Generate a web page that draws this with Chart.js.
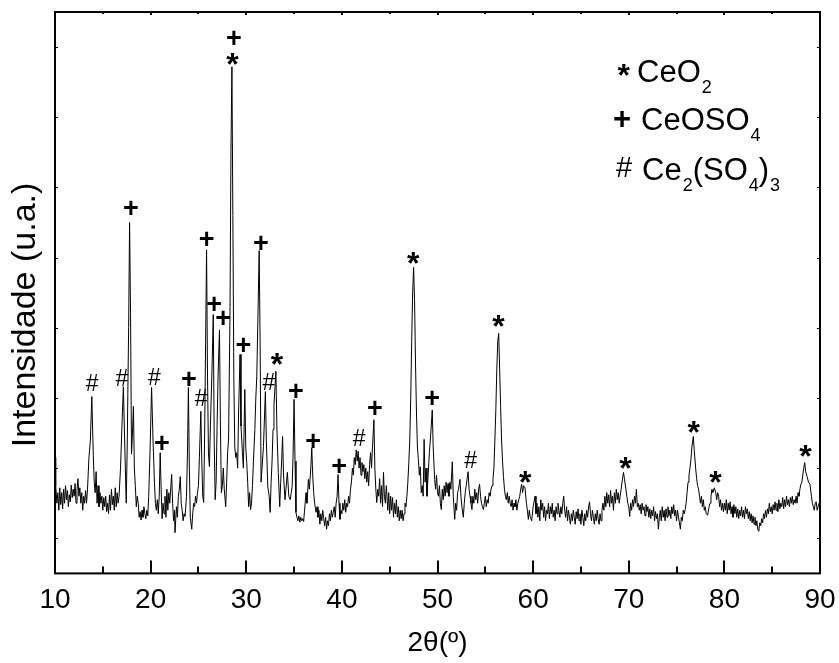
<!DOCTYPE html>
<html>
<head>
<meta charset="utf-8">
<script src="https://cdn.jsdelivr.net/npm/chart.js@4.4.1/dist/chart.umd.min.js"></script>
<style>
html, body { margin: 0; padding: 0; background: #fff; }
</style>
</head>
<body>
<canvas id="chart" width="839" height="663"></canvas>
<script>
// XRD scan: [2theta, intensity (a.u.)]
const scan = [
[10.00,215],[10.05,190],[10.1,175],[10.2,150],[10.3,165],[10.4,140],[10.5,172],[10.6,148],[10.7,165],[10.8,142],[10.9,170],
[11.0,150],[11.1,175],[11.2,155],[11.3,168],[11.4,145],[11.5,162],[11.6,152],[11.7,176],[11.8,158],[11.9,170],
[12.0,160],[12.1,178],[12.2,150],[12.3,168],[12.4,185],[12.5,160],[12.6,172],[12.7,150],[12.8,165],[12.9,140],
[13.0,160],[13.1,150],[13.2,168],[13.3,150],[13.4,170],[13.55,215],[13.7,240],[13.85,302],[14.0,220],[14.1,180],
[14.2,165],[14.3,195],[14.4,150],[14.5,175],[14.6,145],[14.7,165],[14.8,150],[14.9,160],[15.0,140],[15.1,158],
[15.2,145],[15.3,160],[15.4,138],[15.5,150],[15.6,135],[15.7,162],[15.8,140],[15.9,170],[16.0,148],[16.1,160],
[16.2,140],[16.3,172],[16.4,145],[16.5,165],[16.6,150],[16.7,160],[16.85,200],[17.0,260],[17.15,316],[17.3,230],
[17.45,150],[17.55,230],[17.7,400],[17.8,550],[17.9,420],[18.0,220],[18.1,250],[18.2,288],[18.3,200],[18.4,175],
[18.5,145],[18.6,160],[18.7,150],[18.8,130],[18.9,138],[19.0,126],[19.1,140],[19.2,130],[19.3,145],[19.4,135],
[19.5,128],[19.6,140],[19.7,132],[19.8,160],[19.95,230],[20.1,315],[20.25,240],[20.4,180],[20.5,150],[20.6,140],
[20.7,155],[20.8,135],[20.9,160],[21.0,222],[21.1,170],[21.2,128],[21.3,150],[21.4,135],[21.5,160],[21.6,130],
[21.7,170],[21.8,140],[21.9,165],[22.0,150],[22.2,191],[22.3,150],[22.4,125],[22.5,140],[22.55,108],[22.7,145],
[22.8,130],[22.9,160],[23.0,170],[23.1,188],[23.2,150],[23.3,140],[23.4,125],[23.5,135],[23.6,131],[23.75,160],
[23.85,220],[23.95,315],[24.05,200],[24.15,130],[24.3,113],[24.4,135],[24.5,150],[24.6,145],[24.7,160],[24.8,150],
[24.9,165],[25.0,175],[25.1,215],[25.25,281],[25.35,210],[25.45,160],[25.55,151],[25.65,250],[25.75,380],[25.85,511],
[25.95,330],[26.05,220],[26.15,202],[26.25,260],[26.4,330],[26.55,419],[26.65,240],[26.75,155],[26.85,180],[26.95,260],
[27.05,330],[27.2,397],[27.3,260],[27.4,165],[27.5,175],[27.6,200],[27.7,170],[27.85,145],[27.95,180],[28.05,222],
[28.15,240],[28.3,420],[28.4,650],[28.5,772],[28.6,560],[28.7,330],[28.8,230],[28.9,215],[29.0,222],[29.1,200],
[29.2,280],[29.35,362],[29.45,260],[29.6,222],[29.7,200],[29.85,312],[29.95,230],[30.05,208],[30.15,180],[30.25,145],
[30.35,165],[30.45,141],[30.55,150],[30.65,175],[30.75,210],[30.9,255],[31.0,300],[31.1,330],[31.2,400],[31.35,510],
[31.45,380],[31.55,180],[31.65,200],[31.8,231],[31.9,270],[32.0,309],[32.1,240],[32.25,174],[32.4,160],[32.5,137],
[32.6,180],[32.7,210],[32.8,255],[32.9,290],[33.1,338],[33.2,260],[33.35,194],[33.5,145],[33.6,180],[33.7,210],
[33.8,245],[33.9,190],[34.05,155],[34.15,170],[34.3,194],[34.45,160],[34.6,155],[34.7,165],[34.8,174],[34.9,220],
[35.0,298],[35.1,210],[35.2,137],[35.3,130],[35.4,125],[35.5,132],[35.6,123],[35.7,130],[35.8,125],[35.9,128],
[36.0,124],[36.1,140],[36.25,165],[36.35,150],[36.5,184],[36.6,170],[36.75,200],[36.85,229],[36.95,190],[37.05,165],
[37.15,150],[37.3,137],[37.4,145],[37.5,130],[37.6,140],[37.7,120],[37.8,135],[37.9,125],[38.0,140],[38.1,128],
[38.2,118],[38.3,130],[38.4,113],[38.5,125],[38.6,118],[38.7,135],[38.8,125],[38.9,140],[39.0,130],[39.1,137],
[39.2,145],[39.3,130],[39.4,150],[39.5,160],[39.6,191],[39.7,150],[39.8,127],[39.9,140],[40.0,135],[40.1,150],
[40.2,140],[40.3,155],[40.4,137],[40.5,150],[40.6,145],[40.7,160],[40.8,150],[40.9,170],[41.0,180],[41.1,200],
[41.2,190],[41.3,215],[41.4,205],[41.5,226],[41.6,210],[41.7,224],[41.8,200],[41.9,215],[42.0,190],[42.1,208],
[42.2,195],[42.3,205],[42.4,185],[42.5,200],[42.6,180],[42.7,195],[42.8,175],[42.9,205],[43.0,222],[43.1,200],
[43.2,230],[43.35,269],[43.45,200],[43.55,170],[43.65,151],[43.75,170],[43.85,160],[43.95,185],[44.05,150],[44.15,175],
[44.25,145],[44.35,194],[44.45,160],[44.55,150],[44.65,175],[44.8,140],[44.9,165],[45.0,135],[45.1,160],[45.2,140],
[45.3,158],[45.4,130],[45.5,150],[45.6,135],[45.7,155],[45.8,130],[45.9,145],[46.0,125],[46.1,140],[46.2,128],
[46.3,140],[46.4,125],[46.5,135],[46.6,150],[46.7,145],[46.8,160],[46.9,180],[47.0,208],[47.1,240],[47.2,300],
[47.3,380],[47.4,450],[47.5,486],[47.6,440],[47.7,350],[47.8,280],[47.9,230],[48.0,212],[48.1,190],[48.2,202],
[48.3,165],[48.4,175],[48.5,160],[48.6,241],[48.7,180],[48.8,200],[48.9,160],[49.0,185],[49.15,222],[49.3,250],
[49.45,283],[49.55,230],[49.7,184],[49.8,170],[49.9,190],[50.0,165],[50.1,160],[50.2,175],[50.3,150],[50.4,141],
[50.5,170],[50.6,155],[50.7,175],[50.8,160],[50.9,180],[51.0,165],[51.1,178],[51.2,160],[51.3,180],[51.4,170],
[51.55,209],[51.65,160],[51.8,127],[51.9,150],[52.0,140],[52.1,165],[52.2,170],[52.35,184],[52.45,160],[52.55,145],
[52.7,130],[52.8,150],[52.9,165],[53.0,175],[53.1,185],[53.2,195],[53.3,170],[53.4,160],[53.5,150],[53.6,141],
[53.7,160],[53.8,150],[53.9,170],[54.0,155],[54.1,165],[54.2,150],[54.3,170],[54.4,177],[54.5,160],[54.6,150],
[54.7,145],[54.8,141],[54.9,150],[55.0,160],[55.1,145],[55.2,155],[55.3,150],[55.4,165],[55.5,160],[55.6,170],
[55.7,175],[55.8,184],[55.9,200],[56.0,240],[56.1,283],[56.2,340],[56.3,380],[56.4,392],[56.5,340],[56.6,288],
[56.7,240],[56.8,210],[56.9,188],[57.0,170],[57.1,160],[57.2,155],[57.3,165],[57.4,150],[57.5,160],[57.6,150],
[57.7,145],[57.8,155],[57.9,140],[58.0,150],[58.1,145],[58.2,155],[58.3,140],[58.4,150],[58.5,155],[58.6,160],
[58.7,170],[58.8,177],[58.9,165],[59.0,175],[59.15,172],[59.3,150],[59.4,140],[59.5,127],[59.6,140],[59.7,130],
[59.85,125],[60.0,145],[60.2,160],[60.3,135],[60.4,150],[60.5,130],[60.6,145],[60.7,125],[60.8,155],[60.9,140],
[61.0,150],[61.1,130],[61.2,145],[61.3,125],[61.4,140],[61.5,135],[61.6,150],[61.7,128],[61.8,145],[61.9,135],
[62.0,150],[62.1,130],[62.2,140],[62.3,125],[62.4,145],[62.5,135],[62.6,150],[62.7,140],[62.8,130],[62.9,145],
[63.0,135],[63.1,150],[63.2,160],[63.3,140],[63.4,130],[63.5,145],[63.6,125],[63.7,140],[63.8,130],[63.9,120],
[64.0,135],[64.1,125],[64.2,140],[64.3,130],[64.4,120],[64.5,138],[64.6,128],[64.7,142],[64.8,125],[64.9,135],
[65.0,120],[65.1,140],[65.2,130],[65.3,118],[65.4,135],[65.5,125],[65.6,140],[65.7,130],[65.8,145],[65.9,152],
[66.0,135],[66.1,125],[66.2,140],[66.3,130],[66.4,120],[66.5,135],[66.6,125],[66.7,140],[66.8,128],[66.9,120],
[67.0,135],[67.1,125],[67.2,140],[67.3,150],[67.4,140],[67.5,160],[67.6,145],[67.7,165],[67.8,150],[67.9,162],
[68.0,145],[68.1,168],[68.2,150],[68.3,160],[68.4,140],[68.5,165],[68.6,150],[68.7,170],[68.8,155],[68.9,165],
[69.0,150],[69.1,160],[69.2,170],[69.3,180],[69.45,194],[69.55,185],[69.7,170],[69.8,160],[69.9,150],[70.0,145],
[70.1,131],[70.2,150],[70.3,140],[70.4,155],[70.5,145],[70.6,160],[70.7,150],[70.8,170],[70.9,145],[71.0,150],
[71.1,140],[71.2,148],[71.3,135],[71.4,150],[71.5,140],[71.6,145],[71.7,132],[71.8,148],[71.9,138],[72.0,145],
[72.1,130],[72.2,142],[72.3,128],[72.4,140],[72.5,132],[72.6,145],[72.7,125],[72.8,138],[72.9,128],[73.0,135],
[73.1,113],[73.2,130],[73.3,140],[73.4,125],[73.5,145],[73.6,130],[73.7,140],[73.8,125],[73.9,142],[74.0,130],
[74.1,145],[74.2,132],[74.3,140],[74.4,128],[74.5,145],[74.6,135],[74.7,148],[74.8,132],[74.9,140],[75.0,125],
[75.1,140],[75.2,130],[75.3,122],[75.4,113],[75.5,130],[75.6,125],[75.7,140],[75.8,135],[75.9,141],[76.0,150],
[76.1,165],[76.2,180],[76.3,190],[76.4,200],[76.5,212],[76.6,230],[76.75,245],[76.85,225],[77.0,199],[77.1,185],
[77.2,175],[77.3,170],[77.4,160],[77.5,150],[77.6,160],[77.7,145],[77.8,155],[77.9,140],[78.0,145],[78.1,135],
[78.25,133],[78.4,145],[78.5,150],[78.6,160],[78.7,170],[78.8,165],[78.95,172],[79.1,165],[79.2,155],[79.3,165],
[79.4,160],[79.5,145],[79.6,155],[79.7,140],[79.8,150],[79.9,138],[80.0,150],[80.1,140],[80.2,155],[80.3,135],
[80.4,150],[80.5,140],[80.6,152],[80.7,135],[80.8,145],[80.9,130],[81.0,148],[81.1,135],[81.2,145],[81.3,130],
[81.4,142],[81.5,128],[81.6,140],[81.7,132],[81.8,145],[81.9,130],[82.0,140],[82.1,128],[82.2,145],[82.3,135],
[82.4,142],[82.5,128],[82.6,138],[82.7,125],[82.8,135],[82.9,122],[83.0,132],[83.1,120],[83.2,130],[83.3,118],
[83.4,125],[83.5,112],[83.6,110],[83.7,122],[83.8,118],[83.9,128],[84.0,122],[84.1,135],[84.2,128],[84.3,140],
[84.4,130],[84.5,142],[84.6,135],[84.7,150],[84.8,138],[84.9,145],[85.0,135],[85.1,148],[85.2,140],[85.3,152],
[85.4,140],[85.5,150],[85.6,138],[85.7,155],[85.8,142],[85.9,150],[86.0,145],[86.1,158],[86.2,142],[86.3,155],
[86.4,145],[86.5,160],[86.6,148],[86.7,155],[86.8,145],[86.9,158],[87.0,150],[87.1,160],[87.2,148],[87.3,155],
[87.4,150],[87.5,160],[87.6,150],[87.7,165],[87.8,160],[87.9,170],[88.0,177],[88.1,180],[88.2,190],[88.3,200],
[88.4,208],[88.5,195],[88.65,188],[88.8,180],[88.95,177],[89.1,160],[89.2,150],[89.3,145],[89.4,140],[89.5,150],
[89.6,152],[89.7,140],[89.8,145],[89.9,150],[90.0,148]
];

// phase markers above peaks
const markerSymbol = ['#','#','+','#','+','+','#','+','+','+','+','*','+','+','#','*','+','+','+','#','+','*','+','#','*','*','*','*','*','*'];
const markerTheta  = [13.9,17.0,17.95,20.4,21.2,24.0,25.3,25.86,26.66,27.6,28.72,28.58,29.7,31.54,32.38,33.25,35.2,37.0,39.73,41.83,43.46,47.5,49.46,53.47,56.4,59.2,69.68,76.82,79.09,88.5];
const markerLevel  = [322,329,571,330,236,328,300,527,434,414,814,783,376,521,323,356,310,239,204,244,286,499,300,212,409,188,208,258,188,224];

const xMajorTicks = [10,20,30,40,50,60,70,80,90];
const xMinorTicks = [15,25,35,45,55,65,75,85];
const yMinorTicks = [100,200,300,400,500,600,700,800];

const FONT = '"Liberation Sans", Arial, Helvetica, sans-serif';

function drawCentered(ctx, txt, cx, cy, font) {
  ctx.font = font;
  ctx.textAlign = 'left';
  ctx.textBaseline = 'alphabetic';
  const m = ctx.measureText(txt);
  const x = cx - (m.actualBoundingBoxRight - m.actualBoundingBoxLeft) / 2;
  const y = cy + (m.actualBoundingBoxAscent - m.actualBoundingBoxDescent) / 2;
  ctx.fillText(txt, x, y);
}

const symbolFont = {
  '+': 'bold 27px ' + FONT,
  '*': 'bold 32px ' + FONT,
  '#': '23px ' + FONT
};

const decorations = {
  id: 'decorations',
  afterDatasetsDraw(chart) {
    const ctx = chart.ctx;
    const area = chart.chartArea;
    const xs = chart.scales.x;
    const ys = chart.scales.y;
    ctx.save();
    ctx.strokeStyle = '#000';
    ctx.fillStyle = '#000';

    // ticks, pointing inward
    ctx.lineWidth = 2;
    ctx.beginPath();
    xMajorTicks.forEach(v => {
      const px = Math.round(xs.getPixelForValue(v));
      ctx.moveTo(px, area.bottom); ctx.lineTo(px, area.bottom - 13);
      ctx.moveTo(px, area.top); ctx.lineTo(px, area.top + 3);
    });
    xMinorTicks.forEach(v => {
      const px = Math.round(xs.getPixelForValue(v));
      ctx.moveTo(px, area.bottom); ctx.lineTo(px, area.bottom - 7);
      ctx.moveTo(px, area.top); ctx.lineTo(px, area.top + 2);
    });
    ctx.stroke();
    ctx.lineWidth = 1;
    ctx.beginPath();
    yMinorTicks.forEach(v => {
      const py = Math.round(ys.getPixelForValue(v)) + 0.5;
      ctx.moveTo(area.left, py); ctx.lineTo(area.left + 3, py);
      ctx.moveTo(area.right, py); ctx.lineTo(area.right - 3, py);
    });
    ctx.stroke();

    // frame
    ctx.lineWidth = 2;
    ctx.strokeRect(area.left, area.top, area.right - area.left, area.bottom - area.top);

    // phase markers
    markerSymbol.forEach((s, i) => {
      drawCentered(ctx, s, xs.getPixelForValue(markerTheta[i]), ys.getPixelForValue(markerLevel[i]), symbolFont[s]);
    });

    // phase key with subscripts
    const mainFont = '31px ' + FONT;
    const subFont = '18px ' + FONT;
    const rows = [
      { sym: '*', symX: 624, symY: 70, x: 637, base: 82, parts: [['CeO', 0], ['2', 1]] },
      { sym: '+', symX: 622, symY: 118, x: 641, base: 130, parts: [['CeOSO', 0], ['4', 1]] },
      { sym: '#', symX: 624, symY: 167, x: 642, base: 180, parts: [['Ce', 0], ['2', 1], ['(SO', 0], ['4', 1], [')', 0], ['3', 1]] }
    ];
    const keySymFont = { '*': 'bold 32px ' + FONT, '+': 'bold 31px ' + FONT, '#': '29px ' + FONT };
    rows.forEach(r => {
      drawCentered(ctx, r.sym, r.symX, r.symY, keySymFont[r.sym]);
      let x = r.x;
      ctx.textAlign = 'left';
      ctx.textBaseline = 'alphabetic';
      r.parts.forEach(([t, sub]) => {
        ctx.font = sub ? subFont : mainFont;
        ctx.fillText(t, x, sub ? r.base + 11 : r.base);
        x += ctx.measureText(t).width + (sub ? 0 : 1);
      });
    });

    // y axis title
    ctx.translate(26, 315);
    ctx.rotate(-Math.PI / 2);
    ctx.font = '34px ' + FONT;
    ctx.textAlign = 'center';
    ctx.textBaseline = 'middle';
    ctx.fillText('Intensidade (u.a.)', 0, 0);
    ctx.restore();
  }
};

const ctx = document.getElementById('chart');

new Chart(ctx, {
  type: 'line',
  data: {
    datasets: [{
      label: 'XRD',
      data: scan.map(p => ({ x: p[0], y: p[1] })),
      borderColor: '#000',
      borderWidth: 1,
      borderJoinStyle: 'round',
      pointRadius: 0,
      tension: 0,
      fill: false
    }]
  },
  options: {
    responsive: false,
    animation: false,
    layout: { padding: { left: 55, right: 19, top: 12, bottom: 3 } },
    plugins: {
      legend: { display: false },
      tooltip: { enabled: false }
    },
    scales: {
      x: {
        type: 'linear',
        min: 10,
        max: 90,
        afterFit(scale) {
          // outer padding already leaves room for the end labels
          scale.paddingLeft = 0;
          scale.paddingRight = 0;
        },
        grid: { display: false, drawTicks: false },
        border: { display: false },
        ticks: {
          stepSize: 10,
          autoSkip: false,
          maxRotation: 0,
          padding: 13,
          color: '#000',
          font: { family: FONT, size: 28, lineHeight: 1.0 }
        },
        title: {
          display: true,
          text: '2θ(º)',
          color: '#000',
          font: { family: FONT, size: 28 },
          padding: { top: -1, bottom: 0 }
        }
      },
      y: {
        display: false,
        min: 50,
        max: 850
      }
    }
  },
  plugins: [decorations]
});
</script>
</body>
</html>
